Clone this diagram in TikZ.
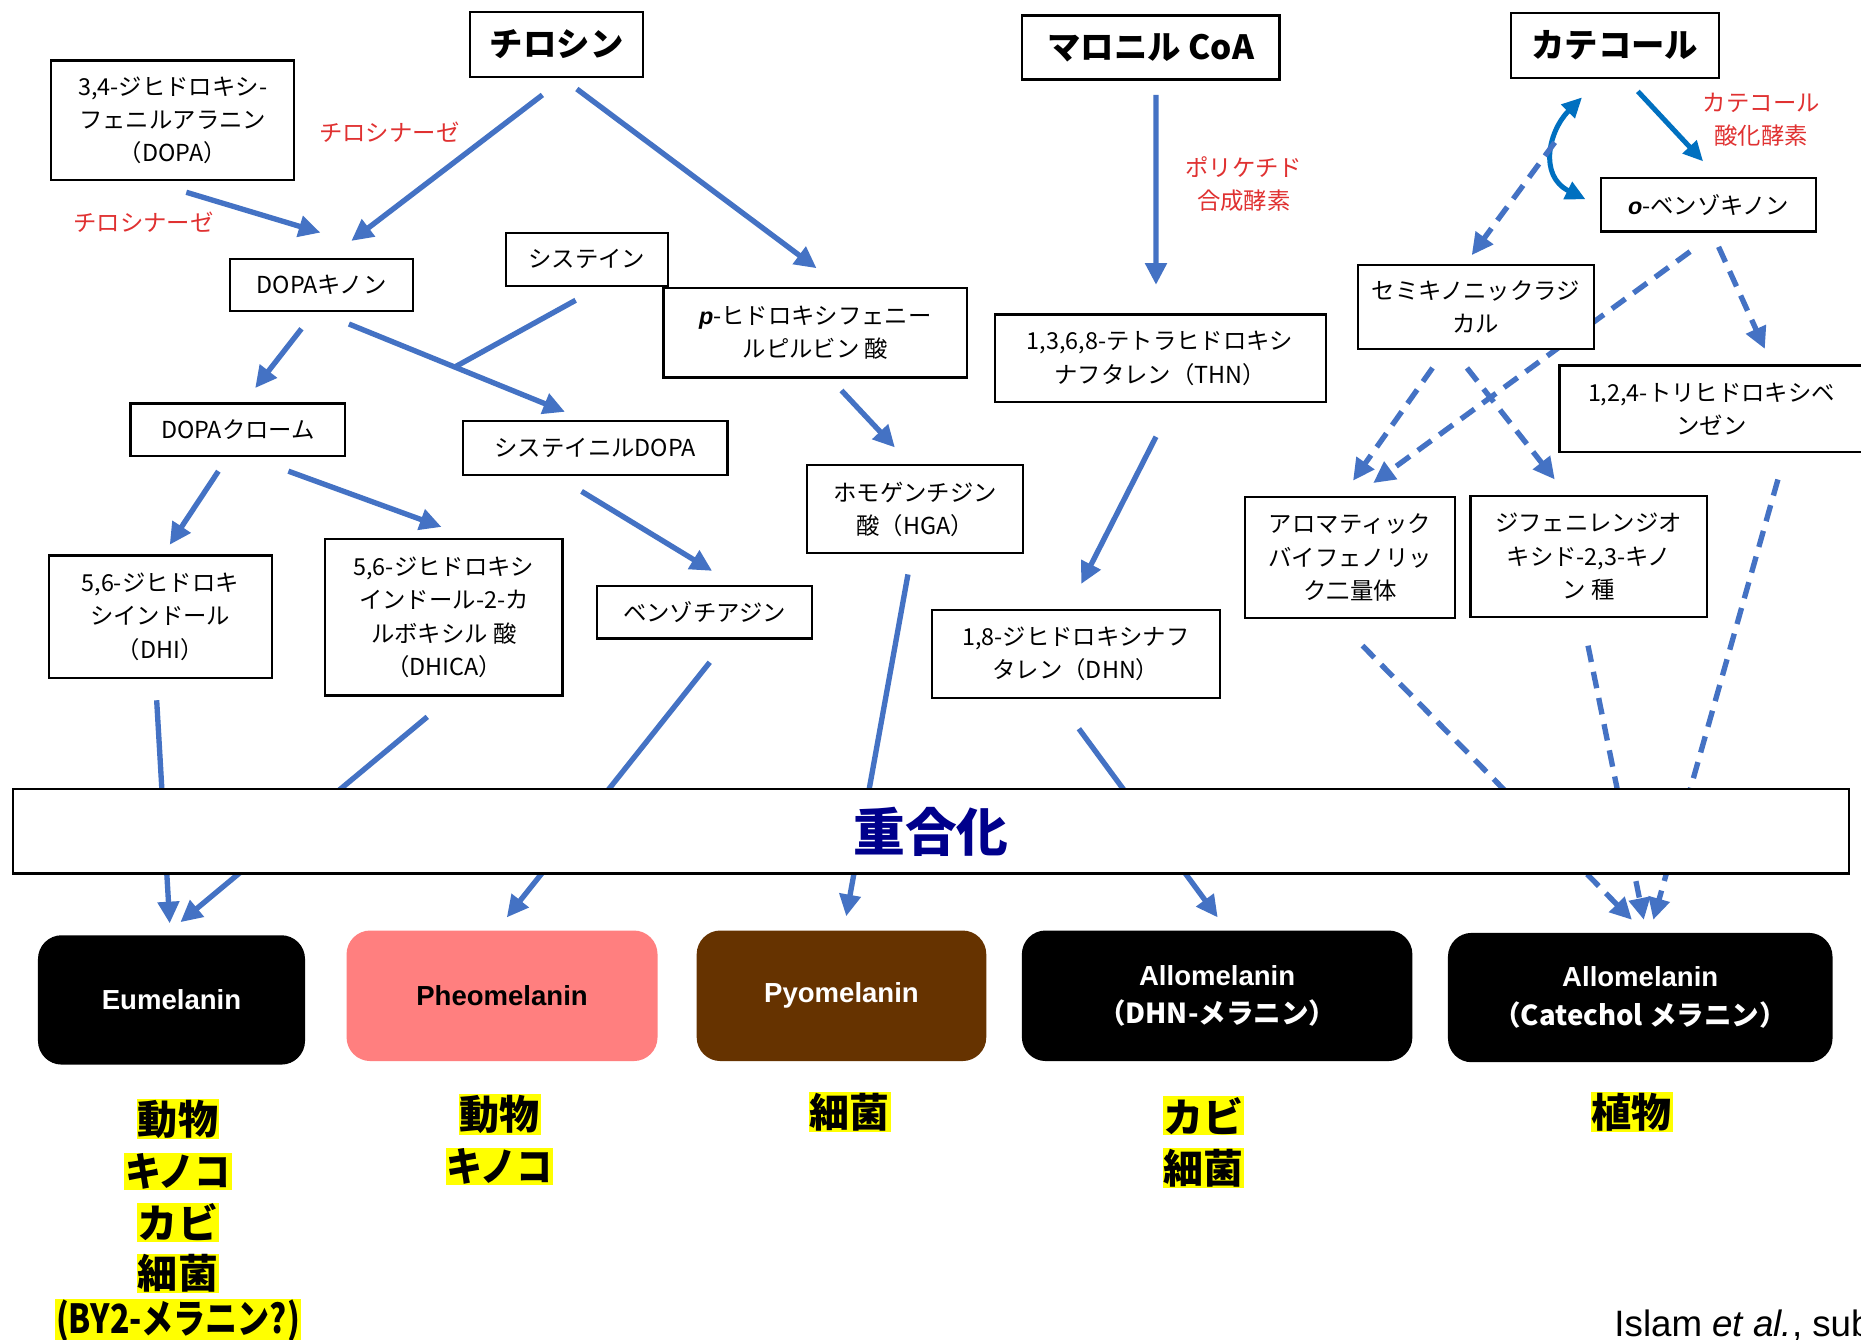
\documentclass[tikz,border=0pt]{standalone}
\usepackage{fontspec}
\setmainfont{Liberation Sans}
\newfontfamily\jp{Noto Sans CJK JP}
\newfontfamily\lat{Liberation Sans}
\usetikzlibrary{arrows.meta}
\definecolor{ablue}{HTML}{4472C4}
\definecolor{cblue}{HTML}{0070C0}
\definecolor{ered}{HTML}{E03131}
\definecolor{pheocol}{HTML}{FF7F7F}
\definecolor{pyocol}{HTML}{663300}
\definecolor{polcol}{HTML}{00008C}
\definecolor{hlyellow}{HTML}{FFFF00}
\pgfdeclarelayer{bg}
\pgfsetlayers{bg,main}
\begin{document}
\begin{tikzpicture}[x=0.025cm,y=-0.025cm,
  bx/.style={draw=black, line width=1.3pt, fill=white, align=center, inner sep=0pt, font=\jp\fontsize{14}{20}\selectfont},
  sz/.style 2 args={minimum width=#1*0.025cm, minimum height=#2*0.025cm},
  topbox/.style={bx, font=\jp\bfseries\fontsize{20}{24}\selectfont},
  mel/.style={rounded corners=0.5cm, inner sep=0pt, align=center, font=\bfseries\fontsize{16.5}{23}\selectfont, text=white},
  arr/.style={draw=ablue, line width=3.2pt, -{Triangle[length=13pt,width=12.5pt]}},
  ln/.style={draw=ablue, line width=3.2pt},
  darr/.style={arr, dash pattern=on 10pt off 6pt},
  carr/.style={draw=cblue, line width=3pt, -{Triangle[length=12pt,width=11pt]}},
  enz/.style={text=ered, align=center, inner sep=0pt, font=\jp\fontsize{14}{19.5}\selectfont},
  hl/.style={fill=hlyellow, inner sep=0.5pt, font=\jp\bfseries\fontsize{24}{26}\selectfont},
]
\useasboundingbox (0,0) rectangle (1568,1129);
\begin{pgfonlayer}{bg}
\fill[white] (0,0) rectangle (1568,1129);
\end{pgfonlayer}

% top sources
\node[topbox, sz={146}{55}] (tyr) at (469,37.5) {チロシン};
\node[topbox, sz={217}{54}] (mal) at (969.5,40) {マロニル CoA};
\node[topbox, sz={175}{55}] (cat) at (1360.5,38.5) {カテコール};

% intermediates
\node[bx, sz={205}{101}] (dopa) at (145.5,101.5) {3,4-ジヒドロキシ-\\フェニルアラニン\\（DOPA）};
\node[bx, sz={154}{44}] (dq) at (271,240) {DOPAキノン};
\node[bx, sz={256}{75}] (hpp) at (687,280.5) {{\lat\bfseries\itshape p}-ヒドロキシフェニー\\ルピルビン 酸};
\node[bx, sz={137}{45}] (cys) at (494.5,218.5) {システイン};
\node[bx, sz={181}{44}] (dc) at (200.5,362) {DOPAクローム};
\node[bx, sz={223}{45}] (cd) at (501.5,377.5) {システイニルDOPA};
\node[bx, sz={182}{74}] (hga) at (771,429) {ホモゲンチジン\\酸（HGA）};
\node[bx, sz={188}{103}] (dhi) at (135,519.5) {5,6-ジヒドロキ\\シインドール\\（DHI）};
\node[bx, sz={200}{132}] (dhica) at (374,520) {5,6-ジヒドロキシ\\インドール-2-カ\\ルボキシル 酸\\（DHICA）};
\node[bx, sz={181}{44}] (bz) at (593.5,516) {ベンゾチアジン};
\node[bx, sz={279}{74}] (thn) at (977.5,302) {1,3,6,8-テトラヒドロキシ\\ナフタレン（THN）};
\node[bx, sz={243}{74}] (dhn) at (906.5,551) {1,8-ジヒドロキシナフ\\タレン（DHN）};
\node[bx, sz={181}{45}] (obq) at (1439.5,172.5) {{\lat\bfseries\itshape o}-ベンゾキノン};
\node[bx, sz={199}{71}] (semi) at (1243.5,258.5) {セミキノニックラジ\\カル};
\node[bx, sz={256}{73}] (thb) at (1442,344.5) {1,2,4-トリヒドロキシベ\\ンゼン};
\node[bx, sz={177}{102}] (arom) at (1137.5,470) {アロマティック\\バイフェノリッ\\ク二量体};
\node[bx, sz={199}{102}] (diph) at (1338.5,469) {ジフェニレンジオ\\キシド-2,3-キノ\\ン 種};

% enzymes
\node[enz] (tyase1) at (328,111) {チロシナーゼ};
\node[enz] (tyase2) at (121,187) {チロシナーゼ};
\node[enz] (pks) at (1048,155) {ポリケチド\\合成酵素};
\node[enz] (cox) at (1484,101) {カテコール\\酸化酵素};

% polymerisation bar
\node[draw=black, line width=1.3pt, fill=white, sz={1547}{71}, inner sep=0pt, text=polcol,
      font=\jp\bfseries\fontsize{31}{34}\selectfont] (bar) at (784.5,700.5) {重合化};

% melanins
\node[mel, fill=black, sz={225}{109}] (eu) at (144.5,842.5) {Eumelanin};
\node[mel, fill=pheocol, text=black, sz={262}{110}] (pheo) at (423,839) {Pheomelanin};
\node[mel, fill=pyocol, sz={244}{110}] (pyo) at (709,839) {Pyomelanin};
\node[mel, fill=black, sz={329}{110}] (alld) at (1025.5,839) {Allomelanin\\{\jp\bfseries （DHN-メラニン）}};
\node[mel, fill=black, sz={324}{109}] (allc) at (1382,840.5) {Allomelanin\\{\jp\bfseries （Catechol メラニン）}};

% organisms
\node[hl] (o1) at (150,943) {動物};
\node[hl] (o2) at (150,987) {\scalebox{0.9}[1]{キノコ}};
\node[hl] (o3) at (150,1030) {カビ};
\node[hl] (o4) at (150,1073) {細菌};
\node[hl] (o5) at (150,1113) {\scalebox{0.8}[1]{(BY2-メラニン?)}};
\node[hl] (p1) at (421,939) {動物};
\node[hl] (p2) at (421,983) {\scalebox{0.9}[1]{キノコ}};
\node[hl] (y1) at (716,937) {細菌};
\node[hl] (d1) at (1014,940) {カビ};
\node[hl] (d2) at (1014,984) {細菌};
\node[hl] (c1) at (1375,937) {植物};

\node[anchor=base west, inner sep=0pt, font=\fontsize{22}{25}\selectfont] (cite) at (1360,1126) {Islam \textit{et al.}, sub};

% connectors
\begin{pgfonlayer}{bg}
\draw[arr] ([shift={(-12,42.5)}]tyr.center) -- ([shift={(25,-37)}]dq.center);
\draw[arr] ([shift={(17,37.5)}]tyr.center) -- ([shift={(1,-54.5)}]hpp.center);
\draw[arr] ([shift={(11.5,60.5)}]dopa.center) -- ([shift={(-1,-44)}]dq.center);
\draw[arr] ([shift={(4.5,40)}]mal.center) -- ([shift={(-3.5,-62)}]thn.center);
\draw[arr] ([shift={(-17,37)}]dq.center) -- ([shift={(14.5,-35)}]dc.center);
\draw[arr] ([shift={(23,33)}]dq.center) -- coordinate[pos=0.49] (join) ([shift={(-25.5,-30.5)}]cd.center);
\draw[ln] ([shift={(-9.5,34.5)}]cys.center) -- (join);
\draw[arr] ([shift={(22,48.5)}]hpp.center) -- ([shift={(-17,-52)}]hga.center);
\draw[arr] ([shift={(-16.5,35)}]dc.center) -- ([shift={(8,-60.5)}]dhi.center);
\draw[arr] ([shift={(42.5,35)}]dc.center) -- ([shift={(-2,-76)}]dhica.center);
\draw[arr] ([shift={(-11.5,36.5)}]cd.center) -- ([shift={(6.5,-35)}]bz.center);
\draw[arr] ([shift={(-3.5,66)}]thn.center) -- ([shift={(4.5,-59)}]dhn.center);
\draw[arr] ([shift={(-3,70.5)}]dhi.center) -- ([shift={(-1.5,-64.5)}]eu.center);
\draw[arr] ([shift={(-14,84)}]dhica.center) -- ([shift={(7.5,-65.5)}]eu.center);
\draw[arr] ([shift={(4.5,42)}]bz.center) -- ([shift={(4,-66)}]pheo.center);
\draw[arr] ([shift={(-6,55)}]hga.center) -- ([shift={(4,-67)}]pyo.center);
\draw[arr] ([shift={(2.5,63)}]dhn.center) -- ([shift={(0.5,-66)}]alld.center);
% catechol branch
\draw[carr] ([shift={(19.5,38.5)}]cat.center) -- ([shift={(-4.5,-36.5)}]obq.center);
\draw[carr, {Triangle[length=12pt,width=11pt]}-{Triangle[length=12pt,width=11pt]}]
  ([shift={(-27.5,43.5)}]cat.center) .. controls (1305,110) and (1296,148) .. ([shift={(-103.5,-4.5)}]obq.center);
\coordinate (cv) at (1310,120);
\draw[darr] (cv) -- ([shift={(-3.5,-43.5)}]semi.center);
\draw[darr] ([shift={(8.5,35.5)}]obq.center) -- ([shift={(45,-50.5)}]thb.center);
\draw[darr] ([shift={(-15.5,39.5)}]obq.center) -- ([shift={(19.5,-63)}]arom.center);
\draw[darr] ([shift={(-36.5,51.5)}]semi.center) -- ([shift={(2.5,-65)}]arom.center);
\draw[darr] ([shift={(-7.5,51.5)}]semi.center) -- ([shift={(-28.5,-65)}]diph.center);
\draw[darr] ([shift={(10.5,74)}]arom.center) -- ([shift={(-7,-65.5)}]allc.center);
\draw[darr] ([shift={(-0.5,75)}]diph.center) -- ([shift={(3,-65.5)}]allc.center);
\draw[darr] ([shift={(56,59.5)}]thb.center) -- ([shift={(11,-65.5)}]allc.center);
\end{pgfonlayer}
\end{tikzpicture}
\end{document}
